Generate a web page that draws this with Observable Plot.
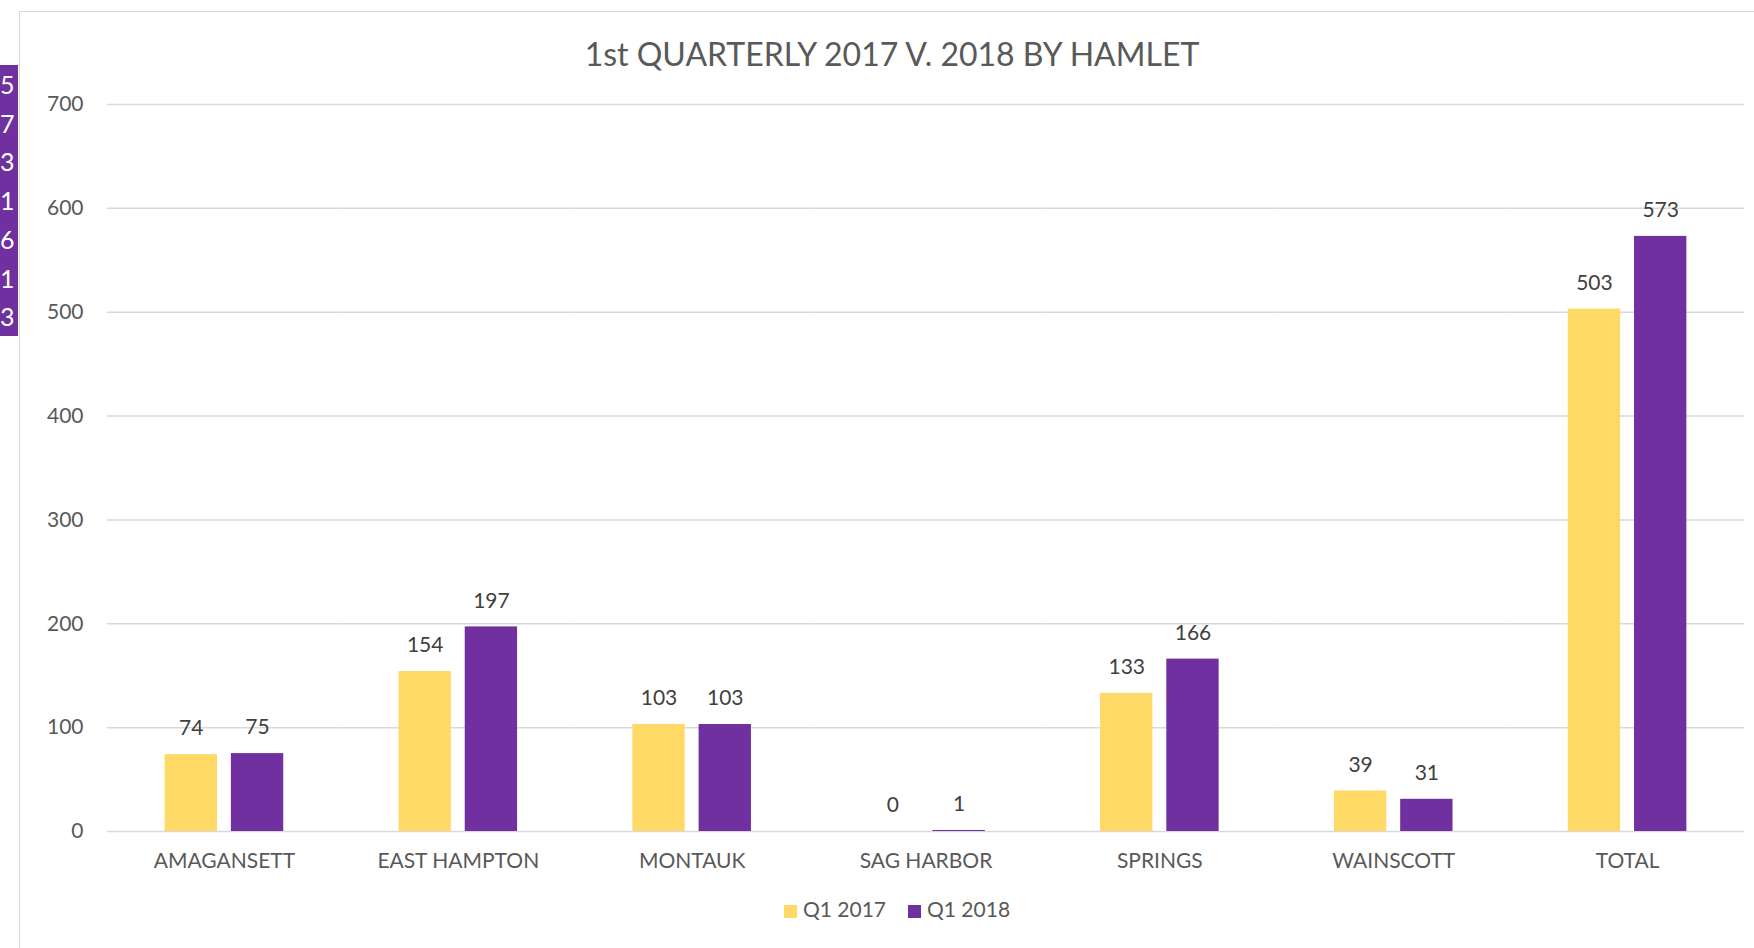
<!DOCTYPE html>
<html>
<head>
<meta charset="utf-8">
<script src="https://cdn.jsdelivr.net/npm/d3@7"></script>
<script src="https://cdn.jsdelivr.net/npm/@observablehq/plot@0.6"></script>
<style>
  html, body { margin: 0; padding: 0; background: #fff; }
  html { overflow: hidden; }
  body { width: 1754px; height: 948px; overflow: hidden; position: relative; font-family: Lato, "Open Sans", sans-serif; }
  #frame { position: absolute; left: 19px; top: 11px; width: 1800px; height: 1000px; border-left: 1.5px solid #d9d9d9; border-top: 1.5px solid #d9d9d9; z-index: 3; pointer-events: none; }
  #strip { position: absolute; left: 0; top: 65px; width: 18px; height: 271px; background: #7030a0; z-index: 4; color: #fff; font-size: 25px; line-height: 38.7px; overflow: hidden; }
  #title { height: 50px; padding-top: 34px; line-height: 40px; text-align: center; font-size: 32px; color: #595959; padding-left: 30px; }
  #chart svg { background: transparent !important; }
  #legend { height: 50px; line-height: 50px; text-align: center; font-size: 21px; color: #595959; padding-left: 40px; }
  .sw { display: inline-block; width: 13px; height: 13px; margin-right: 6px; vertical-align: -1px; }
  .item { margin: 0 11px; }
</style>
</head>
<body>
<div id="frame"></div>
<div id="strip"></div>
<div id="title">1st QUARTERLY 2017 V. 2018 BY HAMLET</div>
<div id="chart"></div>
<div id="legend"></div>
<script>
const hamlets = ["AMAGANSETT", "EAST HAMPTON", "MONTAUK", "SAG HARBOR", "SPRINGS", "WAINSCOTT", "TOTAL"];
const q2017 = [74, 154, 103, 0, 133, 39, 503];
const q2018 = [75, 197, 103, 1, 166, 31, 573];
const seriesNames = ["Q1 2017", "Q1 2018"];
const seriesColors = ["#ffd966", "#7030a0"];
const yTicks = [0, 100, 200, 300, 400, 500, 600, 700];

const data = [];
hamlets.forEach((h, i) => {
  data.push({hamlet: h, series: seriesNames[0], value: q2017[i]});
  data.push({hamlet: h, series: seriesNames[1], value: q2018[i]});
});

// clipped spreadsheet column at the left edge (last digit of Q1 2018 values)
const strip = document.getElementById("strip");
q2018.forEach(v => {
  const d = document.createElement("div");
  d.textContent = String(v).slice(-1);
  strip.appendChild(d);
});

const chart = Plot.plot({
  width: 1754,
  height: 800,
  marginLeft: 107,
  marginRight: 10,
  marginTop: 20,
  marginBottom: 53,
  style: {fontFamily: "Lato, 'Open Sans', sans-serif", fontSize: "21px", color: "#595959", background: "transparent"},
  fx: {domain: hamlets, padding: 0, round: false, label: null, tickSize: 0, tickPadding: 22, axis: "bottom"},
  x: {domain: seriesNames, paddingInner: 0.21, paddingOuter: 0.87, round: false, axis: null},
  y: {domain: [0, 700], ticks: yTicks, tickSize: 0, tickPadding: 24, label: null, axis: "left", tickFormat: d => String(d), fontSize: 22},
  color: {domain: seriesNames, range: seriesColors},
  marks: [
    Plot.ruleY(yTicks, {stroke: "#d9d9d9", strokeWidth: 1.5}),
    Plot.barY(data, {fx: "hamlet", x: "series", y: "value", fill: "series"}),
    Plot.text(data, {fx: "hamlet", x: "series", y: "value", text: d => String(d.value), dy: -26, lineAnchor: "middle", fill: "#404040", fontSize: 21})
  ]
});
document.getElementById("chart").appendChild(chart);

const legend = document.getElementById("legend");
seriesNames.forEach((s, i) => {
  const span = document.createElement("span");
  span.className = "item";
  const sw = document.createElement("span");
  sw.className = "sw";
  sw.style.background = seriesColors[i];
  span.appendChild(sw);
  span.appendChild(document.createTextNode(s));
  legend.appendChild(span);
});
</script>
</body>
</html>
